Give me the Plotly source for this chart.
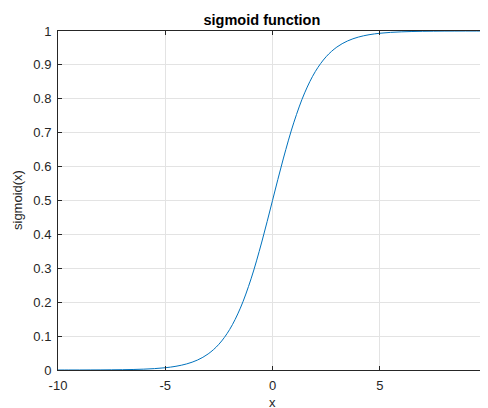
import plotly.graph_objects as go

x_vals = [-10, -9.5, -9, -8.5, -8, -7.5, -7, -6.5, -6, -5.5, -5, -4.5, -4, -3.5, -3,
          -2.5, -2, -1.5, -1, -0.5, 0, 0.5, 1, 1.5, 2, 2.5, 3, 3.5, 4, 4.5, 5,
          5.5, 6, 6.5, 7, 7.5, 8, 8.5, 9, 9.5, 10]
y_vals = [0.0000, 0.0001, 0.0001, 0.0002, 0.0003, 0.0006, 0.0009, 0.0015, 0.0025, 0.0041, 0.0067,
          0.0110, 0.0180, 0.0293, 0.0474, 0.0759, 0.1192, 0.1824, 0.2689, 0.3775, 0.5000,
          0.6225, 0.7311, 0.8176, 0.8808, 0.9241, 0.9526, 0.9707, 0.9820, 0.9890, 0.9933,
          0.9959, 0.9975, 0.9985, 0.9991, 0.9994, 0.9997, 0.9998, 0.9999, 0.9999, 1.0000]
x_ticks = [-10, -5, 0, 5, 10]
y_ticks = [0, 0.1, 0.2, 0.3, 0.4, 0.5, 0.6, 0.7, 0.8, 0.9, 1]
y_tick_text = ["0", "0.1", "0.2", "0.3", "0.4", "0.5", "0.6", "0.7", "0.8", "0.9", "1"]

font = "Liberation Sans, Arial, sans-serif"
dark = "#262626"

fig = go.Figure()
fig.add_trace(go.Scatter(x=x_vals, y=y_vals, mode="lines",
                         line=dict(color="#0072BD", width=1, shape="spline")))

axis_common = dict(showline=True, linecolor=dark, linewidth=1, mirror="ticks",
                   ticks="inside", ticklen=4, tickcolor=dark, showgrid=True,
                   gridcolor="#e3e3e3", gridwidth=1, zeroline=False,
                   tickfont=dict(family=font, size=13, color=dark), automargin=False,
                   ticklabeloverflow="allow")

fig.update_layout(
    width=480, height=400,
    margin=dict(l=50, r=1, t=23, b=37.5),
    paper_bgcolor="white", plot_bgcolor="white",
    showlegend=False,
    title=dict(text="<b>sigmoid function</b>", x=0.529, xanchor="center", y=0.97, yanchor="middle",
               font=dict(family=font, size=14.5, color="black")),
    xaxis=dict(range=[-10, 10], tickvals=x_ticks, ticktext=[str(v) for v in x_ticks],
               ticklabelstandoff=3, **axis_common),
    yaxis=dict(range=[0, 1], tickvals=y_ticks, ticktext=y_tick_text,
               ticklabelstandoff=3, **axis_common),
    annotations=[
        dict(text="x", xref="paper", yref="paper", x=0.5, y=-0.0957, xanchor="center",
             yanchor="middle", showarrow=False, font=dict(family=font, size=13, color=dark)),
        dict(text="sigmoid(x)", xref="paper", yref="paper", x=-0.0944, y=0.5, xanchor="center",
             yanchor="middle", textangle=-90, showarrow=False,
             font=dict(family=font, size=13, color=dark)),
    ],
)

fig.write_html("out.html")
